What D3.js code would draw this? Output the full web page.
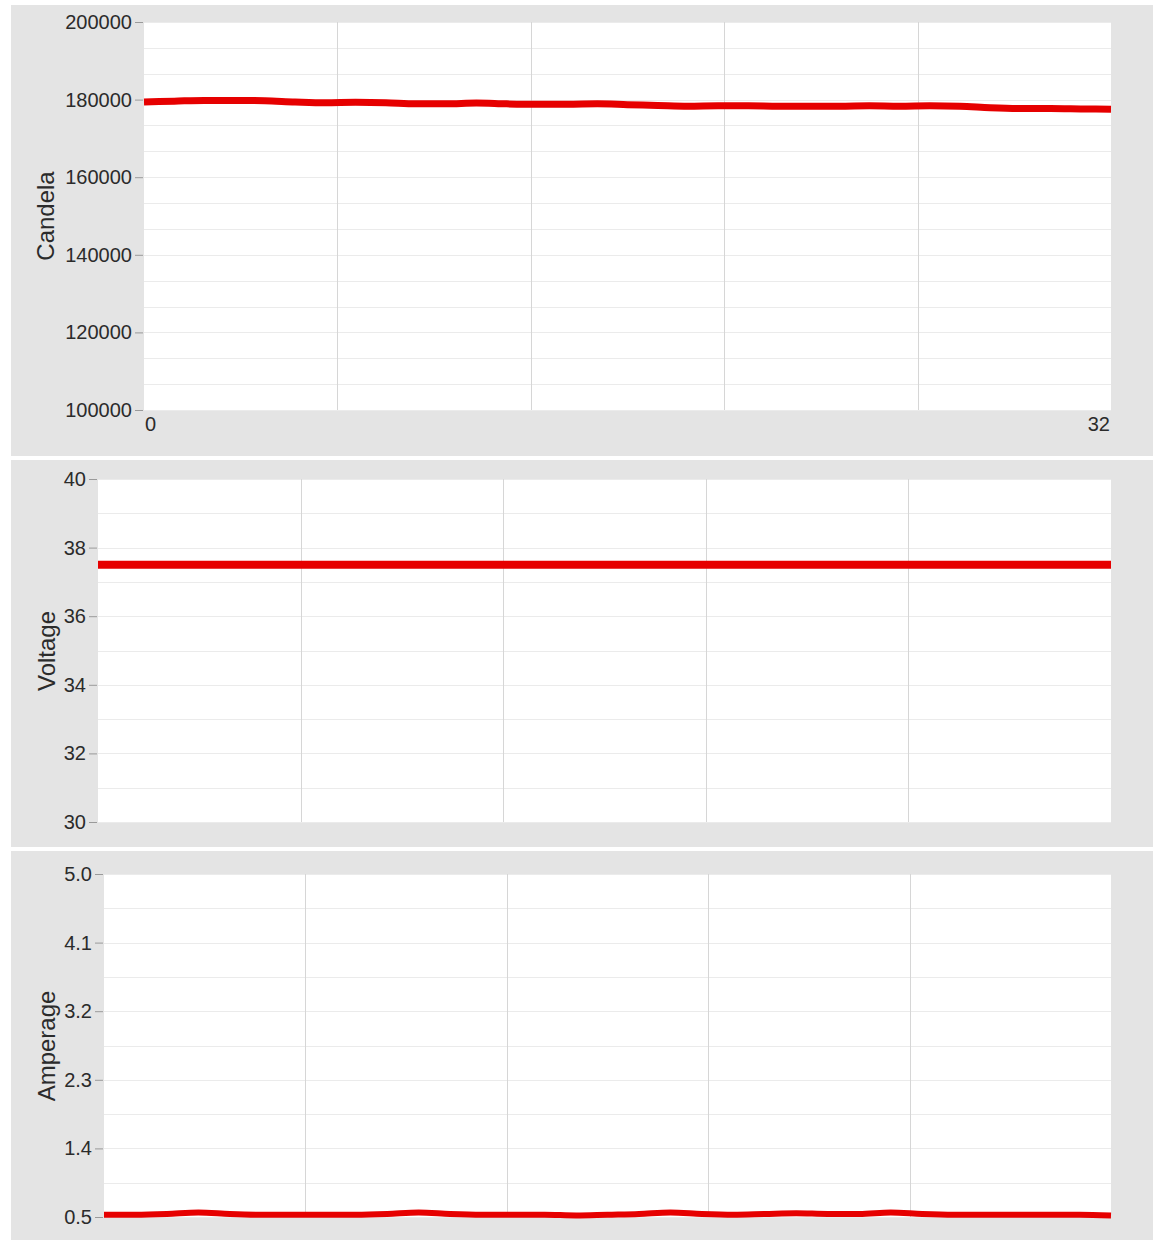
<!DOCTYPE html>
<html>
<head>
<meta charset="utf-8">
<script src="https://cdn.jsdelivr.net/npm/d3@7"></script>
<style>
  html, body { margin: 0; padding: 0; background: #ffffff; }
  svg { display: block; }
  text { font-family: "Liberation Sans", Arial, sans-serif; fill: #2b2b2b; }
</style>
</head>
<body>
<svg id="chart" width="1153" height="1243"></svg>
<script>
// Sample index (time) along the x axis
const samples = d3.range(0, 33);

// Luminous intensity readings
const candelaValues = [
  179400, 179600, 179800, 179800, 179700, 179400, 179200, 179300, 179200,
  178900, 178900, 179100, 178900, 178800, 178800, 178900, 178700, 178500,
  178300, 178400, 178400, 178300, 178300, 178300, 178400, 178300, 178400,
  178300, 177900, 177700, 177700, 177600, 177500
];

// Supply voltage readings
const voltageValues = [
  37.5, 37.5, 37.5, 37.5, 37.5, 37.5, 37.5, 37.5, 37.5, 37.5, 37.5,
  37.5, 37.5, 37.5, 37.5, 37.5, 37.5, 37.5, 37.5, 37.5, 37.5, 37.5,
  37.5, 37.5, 37.5, 37.5, 37.5, 37.5, 37.5, 37.5, 37.5, 37.5, 37.5
];

// Current readings
const amperageValues = [
  0.53, 0.53, 0.54, 0.56, 0.54, 0.53, 0.53, 0.53, 0.53, 0.54, 0.56,
  0.54, 0.53, 0.53, 0.53, 0.52, 0.53, 0.54, 0.56, 0.54, 0.53, 0.54,
  0.55, 0.54, 0.54, 0.56, 0.54, 0.53, 0.53, 0.53, 0.53, 0.53, 0.52
];

// Tick labels for each y axis
const candelaTicks = [100000, 120000, 140000, 160000, 180000, 200000];
const voltageTicks = [30, 32, 34, 36, 38, 40];
const amperageTicks = [0.5, 1.4, 2.3, 3.2, 4.1, 5.0];

// x axis end labels (first panel only)
const xTickLabels = [0, 32];

const panels = [
  { title: "Candela", values: candelaValues, ticks: candelaTicks, minorSteps: 3,
    fmt: d3.format("d"),
    bg: [11, 5, 1142, 451], plot: [144, 22, 1111, 410], titleXY: [46, 216],
    lineWidth: 7, xLabels: true },
  { title: "Voltage", values: voltageValues, ticks: voltageTicks, minorSteps: 2,
    fmt: d3.format("d"),
    bg: [11, 460, 1142, 387], plot: [98, 479, 1111, 822], titleXY: [47, 651],
    lineWidth: 8, xLabels: false },
  { title: "Amperage", values: amperageValues, ticks: amperageTicks, minorSteps: 2,
    fmt: d3.format(".1f"),
    bg: [11, 851, 1142, 389], plot: [104, 874, 1111, 1217], titleXY: [47, 1046],
    lineWidth: 6, xLabels: false }
];

const svg = d3.select("#chart");

panels.forEach(p => {
  const g = svg.append("g");
  const [x0, y0, x1, y1] = p.plot;

  // panel background
  g.append("rect")
    .attr("x", p.bg[0]).attr("y", p.bg[1])
    .attr("width", p.bg[2]).attr("height", p.bg[3])
    .attr("fill", "#e4e4e4");

  // plotting area
  g.append("rect")
    .attr("x", x0).attr("y", y0)
    .attr("width", x1 - x0).attr("height", y1 - y0)
    .attr("fill", "#ffffff");

  const x = d3.scaleLinear().domain([0, 32]).range([x0, x1]);
  const yMin = p.ticks[0], yMax = p.ticks[p.ticks.length - 1];
  const y = d3.scaleLinear().domain([yMin, yMax]).range([y1, y0]);

  // horizontal grid (major + minor subdivisions)
  const step = (p.ticks[1] - p.ticks[0]) / p.minorSteps;
  const gridVals = d3.range(0, (p.ticks.length - 1) * p.minorSteps + 1)
    .map(i => yMin + i * step);
  g.append("g").selectAll("line").data(gridVals).join("line")
    .attr("x1", x0).attr("x2", x1)
    .attr("y1", d => Math.round(y(d)) + 0.5).attr("y2", d => Math.round(y(d)) + 0.5)
    .attr("stroke", "#ebebeb").attr("stroke-width", 1);

  // vertical grid
  const vGrid = d3.range(1, 5).map(i => i * 32 / 5);
  g.append("g").selectAll("line").data(vGrid).join("line")
    .attr("x1", d => Math.round(x(d)) + 0.5).attr("x2", d => Math.round(x(d)) + 0.5)
    .attr("y1", y0).attr("y2", y1)
    .attr("stroke", "#d6d6d6").attr("stroke-width", 1);

  // y axis ticks and labels
  const yAxis = d3.axisLeft(y).tickValues(p.ticks).tickFormat(p.fmt)
    .tickSize(8).tickPadding(3);
  const ay = g.append("g").attr("transform", `translate(${x0 - 1},0)`).call(yAxis);
  ay.select(".domain").remove();
  ay.selectAll(".tick line").attr("stroke", "#9a9a9a");
  ay.selectAll(".tick text")
    .attr("font-size", 20)
    .attr("font-family", "'Liberation Sans', Arial, sans-serif")
    .attr("fill", "#2b2b2b");

  // x axis end labels
  if (p.xLabels) {
    g.append("g").selectAll("text").data(xTickLabels).join("text")
      .attr("x", d => d === 0 ? x(d) + 1 : x(d) - 1)
      .attr("y", y1 + 21)
      .attr("text-anchor", d => d === 0 ? "start" : "end")
      .attr("font-size", 20)
      .text(d => d);
  }

  // axis title
  g.append("text")
    .attr("transform", `translate(${p.titleXY[0] + 8},${p.titleXY[1]}) rotate(-90)`)
    .attr("text-anchor", "middle")
    .attr("font-size", 24)
    .text(p.title);

  // data line
  const line = d3.line()
    .x((d, i) => x(samples[i]))
    .y(d => y(d))
    .curve(d3.curveMonotoneX);
  g.append("path")
    .datum(p.values)
    .attr("d", line)
    .attr("fill", "none")
    .attr("stroke", "#e60000")
    .attr("stroke-width", p.lineWidth)
    .attr("stroke-linejoin", "round");
});
</script>
</body>
</html>
